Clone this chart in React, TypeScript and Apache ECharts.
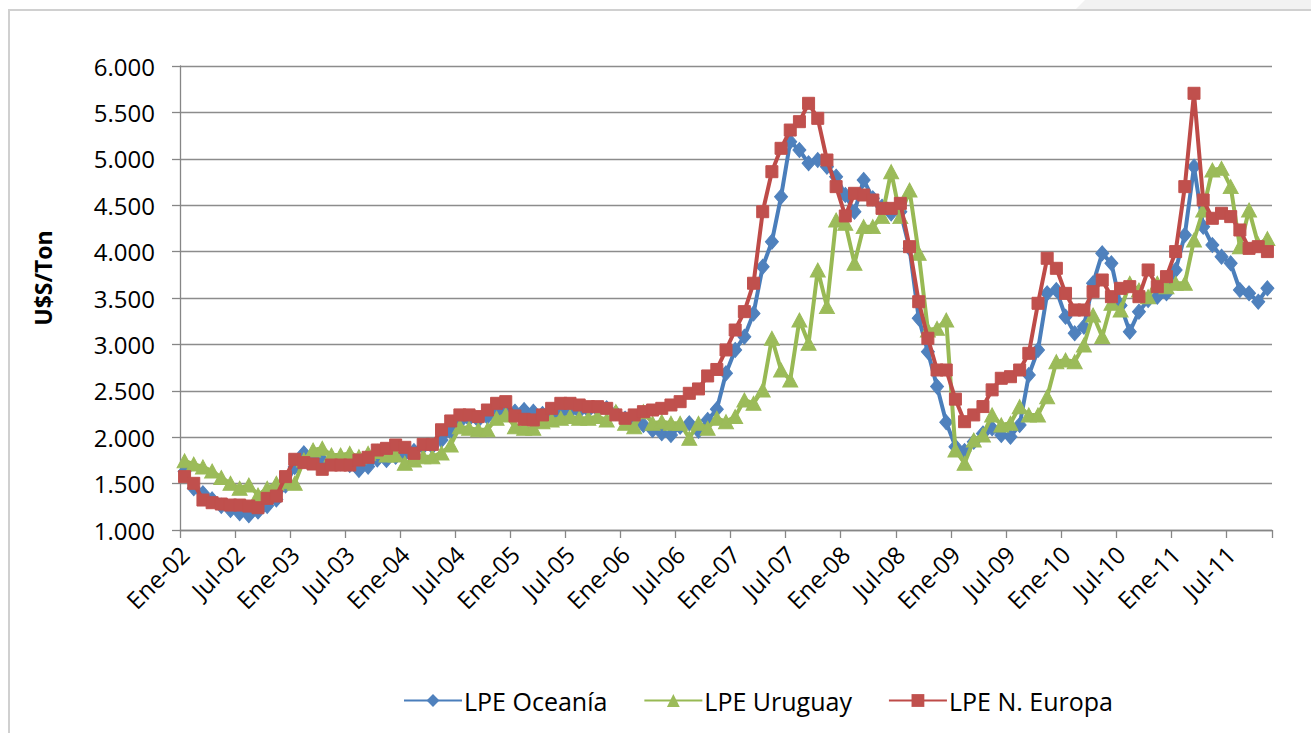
import React, { useEffect, useRef } from "react";
import * as echarts from "echarts";

const MONTHS = ["Ene", "Feb", "Mar", "Abr", "May", "Jun", "Jul", "Ago", "Sep", "Oct", "Nov", "Dic"];
const YEARS = ["02", "03", "04", "05", "06", "07", "08", "09", "10", "11"];
const N_MONTHS = 119; // Ene-02 .. Nov-11
const categories: string[] = YEARS.flatMap((y) => MONTHS.map((m) => `${m}-${y}`)).slice(0, N_MONTHS);

const seriesNames = ["LPE Oceanía", "LPE Uruguay", "LPE N. Europa"];

const oceania = [
  1630, 1450, 1395, 1330, 1260, 1215, 1180, 1160, 1200, 1260, 1330, 1480,
  1680, 1826, 1780, 1754, 1740, 1720, 1700, 1647, 1683, 1760, 1754, 1790,
  1820, 1850, 1898, 1900, 1970, 2060, 2167, 2200, 2186, 2220, 2257, 2290,
  2275, 2293, 2275, 2250, 2240, 2257, 2275, 2280, 2290, 2300, 2311, 2260,
  2200, 2170, 2132, 2078, 2042, 2024, 2113, 2150, 2070, 2186, 2300, 2689,
  2940, 3083, 3334, 3837, 4107, 4592, 5184, 5094, 4951, 4987, 4915, 4807,
  4610, 4430, 4772, 4574, 4484, 4412, 4430, 4035, 3281, 2922, 2545, 2160,
  1898, 1850, 1950, 2040, 2096, 2024, 2005, 2132, 2670, 2940, 3550, 3586,
  3299, 3119, 3191, 3658, 3981, 3874, 3420, 3137, 3353, 3478, 3514, 3550,
  3802, 4179, 4915, 4269, 4071, 3945, 3874, 3586, 3550, 3460, 3604,
];

const uruguay = [
  1745, 1710, 1680, 1636, 1565, 1503, 1450, 1485, 1377, 1450, 1503, 1520,
  1503, 1754, 1862, 1880, 1808, 1808, 1826, 1790, 1826, 1845, 1808, 1808,
  1720, 1754, 1790, 1790, 1830, 1916, 2113, 2096, 2080, 2080, 2204, 2240,
  2113, 2096, 2096, 2167, 2186, 2204, 2222, 2204, 2204, 2222, 2186, 2275,
  2150, 2113, 2275, 2150, 2167, 2150, 2150, 1988, 2150, 2096, 2204, 2167,
  2222, 2401, 2365, 2509, 3066, 2724, 2616, 3263, 3012, 3802, 3407, 4340,
  4305, 3874, 4269, 4269, 4377, 4861, 4377, 4664, 3982, 3155, 3173, 3263,
  1862, 1718, 1970, 2024, 2240, 2132, 2150, 2329, 2240, 2240, 2437, 2814,
  2832, 2814, 2994, 3317, 3084, 3443, 3371, 3658, 3586, 3514, 3658, 3622,
  3658, 3658, 4125, 4448, 4879, 4897, 4700, 4053, 4448, 4080, 4140,
];

const nEuropa = [
  1575, 1503, 1323, 1294, 1280, 1269, 1269, 1258, 1240, 1341, 1366, 1575,
  1762, 1726, 1711, 1654, 1700, 1700, 1700, 1754, 1783, 1862, 1880, 1916,
  1891, 1826, 1923, 1923, 2080, 2175, 2240, 2240, 2222, 2293, 2365, 2383,
  2229, 2193, 2186, 2240, 2311, 2365, 2365, 2347, 2329, 2329, 2311, 2240,
  2204, 2240, 2275, 2293, 2311, 2347, 2383, 2473, 2520, 2660, 2730, 2940,
  3155, 3353, 3659, 4430, 4861, 5113, 5310, 5400, 5598, 5436, 4987, 4700,
  4384, 4628, 4610, 4556, 4466, 4466, 4520, 4053, 3460, 3066, 2724, 2724,
  2410, 2167, 2240, 2330, 2510, 2635, 2652, 2724, 2904, 3443, 3928, 3820,
  3550, 3371, 3371, 3568, 3694, 3514, 3604, 3622, 3514, 3802, 3622, 3730,
  4000, 4700, 5706, 4556, 4359, 4413, 4377, 4233, 4035, 4053, 4000,
];

const FONT = "'Open Sans', 'DejaVu Sans', sans-serif";

function fmtThousands(v: number): string {
  const th = Math.floor(v / 1000);
  const rest = String(Math.round(v % 1000)).padStart(3, "0");
  return `${th}.${rest}`;
}

export default function App() {
  const ref = useRef<HTMLDivElement>(null);

  useEffect(() => {
    if (!ref.current) return;
    const chart = echarts.init(ref.current, null, { renderer: "svg" });
    const lineColors = ["#4A7EBB", "#98B954", "#BE4B48"];
    const markColors = ["#4F81BD", "#9BBB59", "#C0504D"];
    const symbols = ["diamond", "triangle", "rect"];
    const sizes: any[] = [[13, 15], [15, 14], 12];
    const datas = [oceania, uruguay, nEuropa];

    chart.setOption({
      animation: false,
      backgroundColor: "#ffffff",
      textStyle: { fontFamily: FONT },
      grid: { left: 180, right: 39, top: 66, bottom: 203, containLabel: false },
      legend: {
        left: 398,
        top: 683,
        itemWidth: 58,
        itemHeight: 16,
        itemGap: 36,
        textStyle: { fontFamily: FONT, fontSize: 25, color: "#000000", padding: [0, 0, 0, -3] },
        data: seriesNames,
      },
      xAxis: {
        type: "category",
        data: categories,
        boundaryGap: true,
        axisLine: { lineStyle: { color: "#868686", width: 1.3 } },
        axisTick: { show: true, interval: 5, length: 8, lineStyle: { color: "#868686", width: 1.3 } },
        axisLabel: {
          interval: 5,
          rotate: 45,
          margin: 20,
          fontSize: 24,
          fontFamily: FONT,
          color: "#000000",
        },
        splitLine: { show: false },
      },
      yAxis: {
        type: "value",
        min: 1000,
        max: 6000,
        interval: 500,
        axisLine: { show: true, lineStyle: { color: "#868686", width: 1.3 } },
        axisTick: { show: true, length: 8, lineStyle: { color: "#868686", width: 1.3 } },
        axisLabel: {
          formatter: (v: number) => fmtThousands(v),
          margin: 25,
          fontSize: 24,
          fontFamily: FONT,
          color: "#000000",
        },
        splitLine: { show: true, lineStyle: { color: "#8C8C8C", width: 1.3 } },
      },
      graphic: [
        {
          type: "polygon",
          silent: true,
          shape: { points: [[1085, 0], [1311, 0], [1311, 10], [1075, 10]] },
          style: { fill: "#F2F2F2" },
        },
        {
          type: "rect",
          silent: true,
          shape: { x: 9, y: 10, width: 1400, height: 800 },
          style: { fill: "none", stroke: "#D0D0D0", lineWidth: 2 },
        },
        {
          type: "text",
          silent: true,
          x: 43,
          y: 278,
          rotation: Math.PI / 2,
          style: {
            text: "U$S/Ton",
            fontFamily: FONT,
            fontSize: 23,
            fontWeight: "bold",
            fill: "#000000",
            align: "center",
            verticalAlign: "middle",
          },
        },
      ],
      series: seriesNames.map((name, k) => ({
        name,
        type: "line",
        data: datas[k],
        symbol: symbols[k],
        symbolSize: sizes[k],
        showAllSymbol: true,
        lineStyle: { color: lineColors[k], width: 4 },
        itemStyle: { color: markColors[k], borderColor: markColors[k] },
        z: 2 + k,
      })),
    });

    return () => chart.dispose();
  }, []);

  return (
    <div
      ref={ref}
      style={{ position: "absolute", left: 0, top: 0, width: 1311, height: 733 }}
    />
  );
}
